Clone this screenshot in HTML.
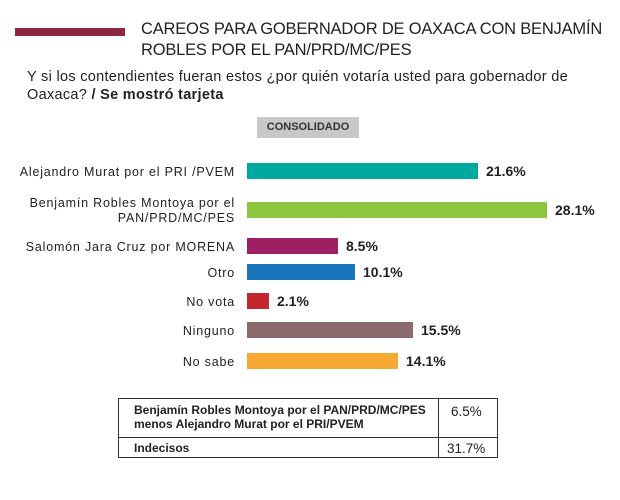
<html><head><style>
body{margin:0;width:620px;height:500px;background:#fff;font-family:"Liberation Sans",sans-serif;position:relative;overflow:hidden;color:#222}
div{position:absolute}
.lab{right:385px;font-size:12.5px;text-align:right;line-height:15px;letter-spacing:0.8px}
.bar{left:247px;height:16px}
.val{font-size:14px;font-weight:bold}
</style></head><body>
<div style="left:15px;top:28px;width:110px;height:8px;background:#8b2740"></div>
<div style="left:141px;top:19px;font-size:16.5px;line-height:21px;color:#222;letter-spacing:-0.2px">CAREOS PARA GOBERNADOR DE OAXACA CON BENJAMÍN<br>ROBLES POR EL PAN/PRD/MC/PES</div>
<div style="left:27px;top:68px;font-size:14.5px;line-height:18px;letter-spacing:0.3px">Y si los contendientes fueran estos ¿por quién votaría usted para gobernador de<br>Oaxaca? <b>/ Se mostró tarjeta</b></div>
<div style="left:257px;top:117px;width:102px;height:21px;background:#c8c8c8;font-size:11px;font-weight:bold;line-height:21px;text-align:center;color:#333">CONSOLIDADO</div>

<div class="lab" style="top:165px">Alejandro Murat por el PRI /PVEM</div>
<div class="bar" style="top:163px;width:231px;background:#00a99d"></div>
<div class="val" style="left:486px;top:163px">21.6%</div>

<div class="lab" style="top:196px">Benjamín Robles Montoya por el<br>PAN/PRD/MC/PES</div>
<div class="bar" style="top:202px;width:300px;background:#8cc63f"></div>
<div class="val" style="left:555px;top:202px">28.1%</div>

<div class="lab" style="top:240px">Salomón Jara Cruz por MORENA</div>
<div class="bar" style="top:238px;width:91px;background:#9e1f63"></div>
<div class="val" style="left:346px;top:238px">8.5%</div>

<div class="lab" style="top:266px">Otro</div>
<div class="bar" style="top:264px;width:108px;background:#1b75bb"></div>
<div class="val" style="left:363px;top:264px">10.1%</div>

<div class="lab" style="top:295px">No vota</div>
<div class="bar" style="top:293px;width:22px;background:#c1272d"></div>
<div class="val" style="left:277px;top:293px">2.1%</div>

<div class="lab" style="top:324px">Ninguno</div>
<div class="bar" style="top:322px;width:166px;background:#8a6a6c"></div>
<div class="val" style="left:421px;top:322px">15.5%</div>

<div class="lab" style="top:355px">No sabe</div>
<div class="bar" style="top:353px;width:151px;background:#f7a832"></div>
<div class="val" style="left:406px;top:353px">14.1%</div>

<div style="left:118px;top:398px;width:378px;height:58px;border:1px solid #333"></div>
<div style="left:438px;top:398px;width:1px;height:60px;background:#333"></div>
<div style="left:118px;top:437px;width:380px;height:1px;background:#333"></div>
<div style="left:134px;top:403px;font-size:12px;font-weight:bold;line-height:14px">Benjamín Robles Montoya por el PAN/PRD/MC/PES<br>menos Alejandro Murat por el PRI/PVEM</div>
<div style="left:451px;top:404px;font-size:13.5px">6.5%</div>
<div style="left:134px;top:441px;font-size:12px;font-weight:bold">Indecisos</div>
<div style="left:447px;top:441px;font-size:13.5px">31.7%</div>
</body></html>
